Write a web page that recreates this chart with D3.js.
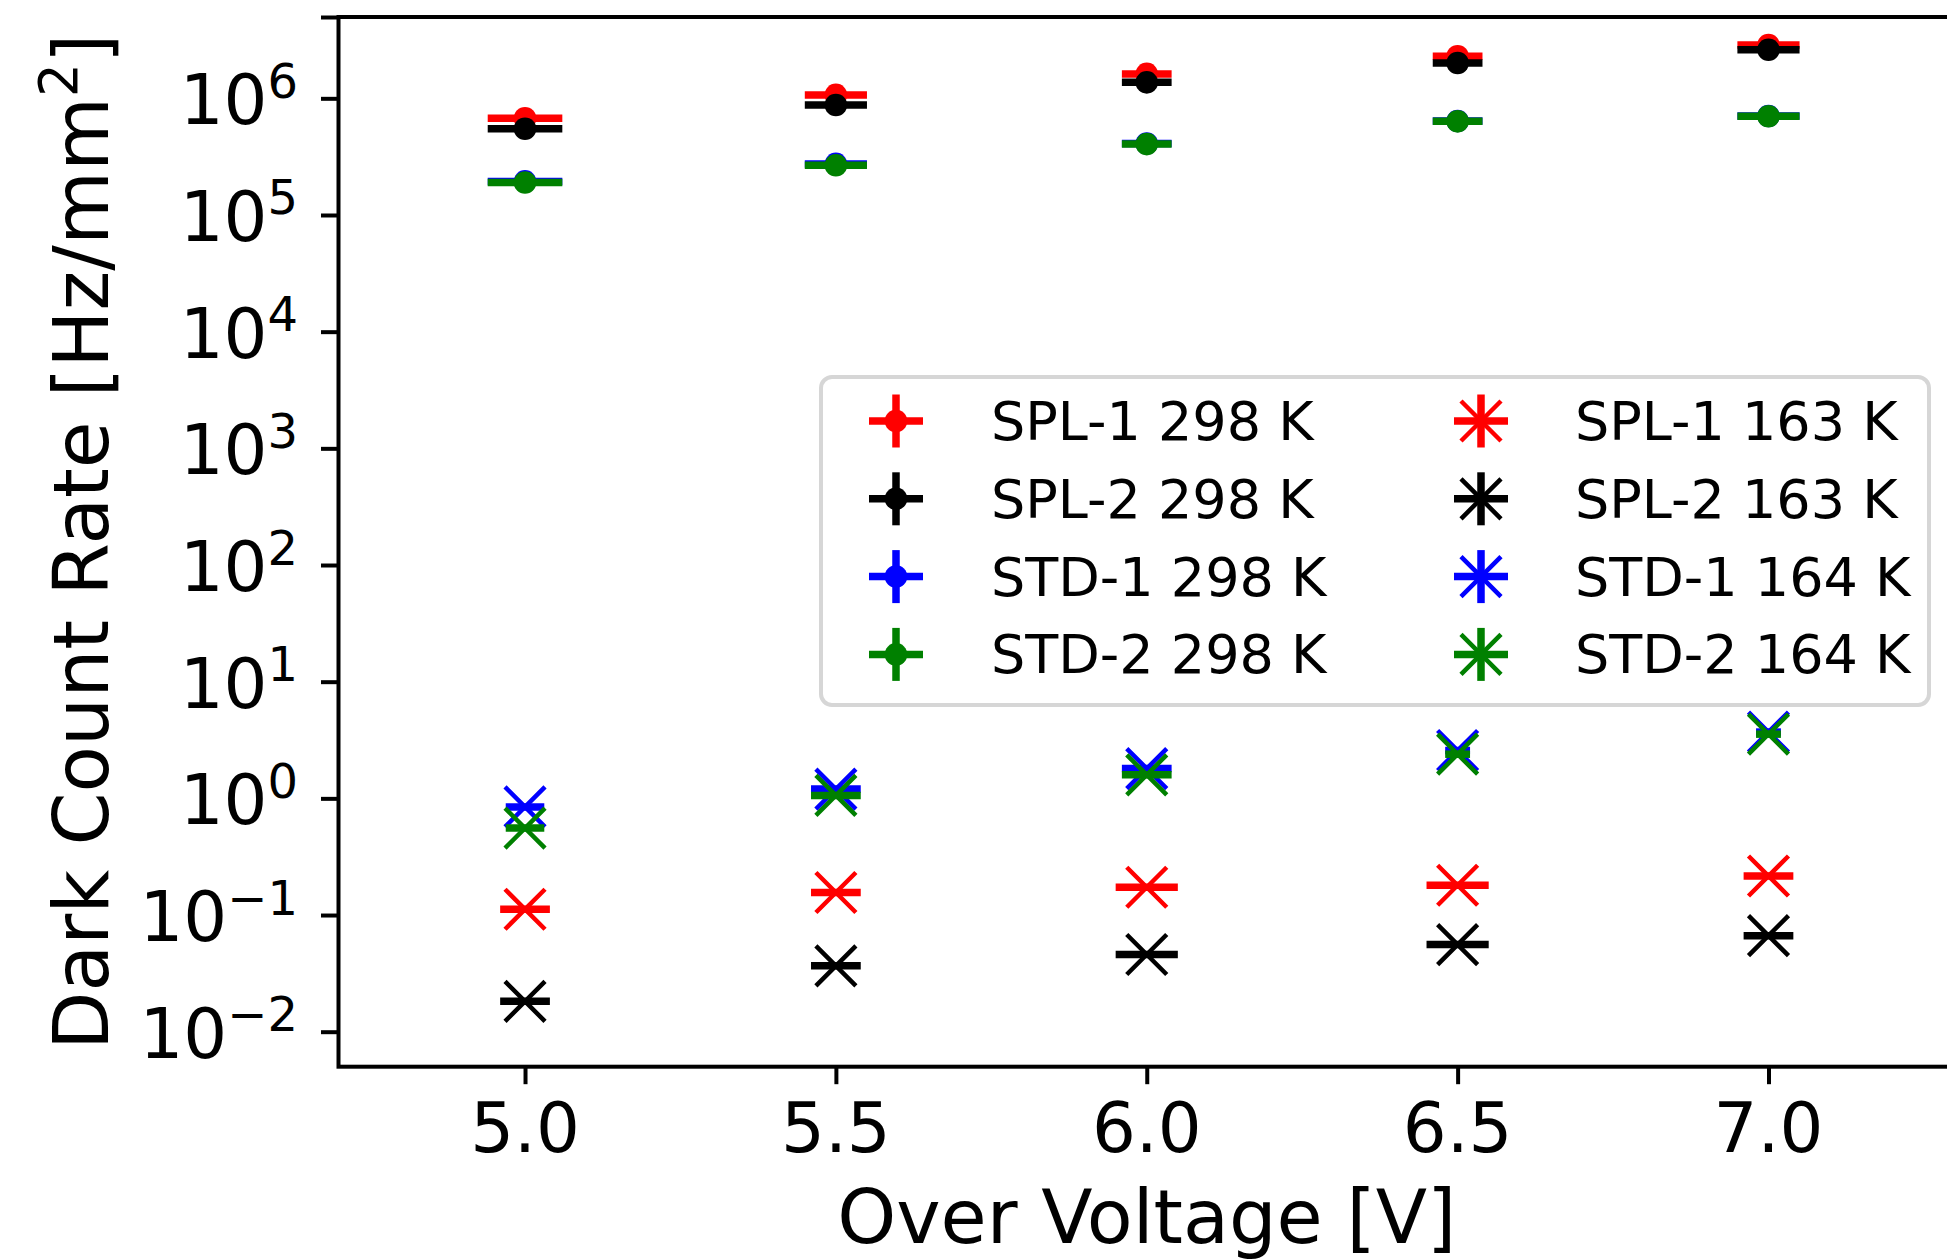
<!DOCTYPE html>
<html>
<head>
<meta charset="utf-8">
<script src="https://cdn.jsdelivr.net/npm/d3@7"></script>
<style>
  body { margin: 0; background: #fff; }
  svg { display: block; font-family: "DejaVu Sans", sans-serif; }
</style>
</head>
<body>
<div id="canvas"></div>
<script>
// over voltage points [V]
const voltages = [5.0, 5.5, 6.0, 6.5, 7.0];

// dark count rate [Hz/mm^2], room temperature
const spl1_298 = [6.74e5, 1.07e6, 1.62e6, 2.29e6, 2.86e6];
const spl2_298 = [5.49e5, 8.77e5, 1.37e6, 2.01e6, 2.61e6];
const std1_298 = [1.94e5, 2.74e5, 4.10e5, 6.40e5, 7.05e5];
const std2_298 = [1.90e5, 2.67e5, 4.05e5, 6.35e5, 7.01e5];

// dark count rate [Hz/mm^2], cold
const spl1_163 = [0.112, 0.156, 0.173, 0.180, 0.216];
const spl2_163 = [0.0182, 0.0367, 0.0459, 0.0558, 0.0665];
const std1_164 = [0.845, 1.20, 1.80, 2.57, 3.70];
const std2_164 = [0.556, 1.06, 1.59, 2.39, 3.55];

// over voltage uncertainties [V]
const xerr_298 = [0.06, 0.05, 0.04, 0.04, 0.05];
const xerr_spl_cold = [0.04, 0.04, 0.05, 0.05, 0.04];
const xerr_std_cold = [0.031, 0.04, 0.04, 0.02, 0.02];

const xTicks = [5.0, 5.5, 6.0, 6.5, 7.0];
const yExponents = [-2, -1, 0, 1, 2, 3, 4, 5, 6];

const labels = ["SPL-1 298 K", "SPL-2 298 K", "STD-1 298 K", "STD-2 298 K",
                "SPL-1 163 K", "SPL-2 163 K", "STD-1 164 K", "STD-2 164 K"];

var series = [
  { label: labels[0], values: spl1_298, xerr: xerr_298, color: "#ff0000", marker: "o" },
  { label: labels[1], values: spl2_298, xerr: xerr_298, color: "#000000", marker: "o" },
  { label: labels[2], values: std1_298, xerr: xerr_298, color: "#0000ff", marker: "o" },
  { label: labels[3], values: std2_298, xerr: xerr_298, color: "#008000", marker: "o" },
  { label: labels[4], values: spl1_163, xerr: xerr_spl_cold, color: "#ff0000", marker: "x" },
  { label: labels[5], values: spl2_163, xerr: xerr_spl_cold, color: "#000000", marker: "x" },
  { label: labels[6], values: std1_164, xerr: xerr_std_cold, color: "#0000ff", marker: "x" },
  { label: labels[7], values: std2_164, xerr: xerr_std_cold, color: "#008000", marker: "x" }
];

var width = 1947, height = 1260;
// plot area edges (right spine falls just outside the picture)
var axL = 338.5, axR = 1955, axT = 17, axB = 1066.7;

var svg = d3.select("#canvas").append("svg")
  .attr("width", width)
  .attr("height", height);

var x = d3.scaleLinear().domain([4.7, 7.3]).range([axL, axR]);
var y = d3.scaleLog().domain([Math.pow(10, -2.3), Math.pow(10, 6.697)]).range([axB, axT]);

var plot = svg.append("g");

var markerR = 11.3, xSize = 20;

series.forEach(function (s) {
  var g = plot.append("g");
  var pts = voltages.map(function (v, i) { return { v: v, r: s.values[i], e: s.xerr[i] }; });

  // horizontal error bars
  g.selectAll("line.xerr")
    .data(pts)
    .enter()
    .append("line")
    .attr("x1", function (d) { return x(d.v - d.e); })
    .attr("x2", function (d) { return x(d.v + d.e); })
    .attr("y1", function (d) { return y(d.r); })
    .attr("y2", function (d) { return y(d.r); })
    .attr("stroke", s.color)
    .attr("stroke-width", 7.5);

  if (s.marker === "o") {
    g.selectAll("circle")
      .data(pts)
      .enter()
      .append("circle")
      .attr("cx", function (d) { return x(d.v); })
      .attr("cy", function (d) { return y(d.r); })
      .attr("r", markerR)
      .attr("fill", s.color);
  } else {
    g.selectAll("path")
      .data(pts)
      .enter()
      .append("path")
      .attr("transform", function (d) { return "translate(" + x(d.v) + "," + y(d.r) + ")"; })
      .attr("d", "M" + -xSize + "," + -xSize + "L" + xSize + "," + xSize +
                 "M" + -xSize + "," + xSize + "L" + xSize + "," + -xSize)
      .attr("stroke", s.color)
      .attr("stroke-width", 4.5)
      .attr("fill", "none");
  }
});

// axes
var tickLen = 17.5;

var xAxis = svg.append("g")
  .attr("transform", "translate(0," + axB + ")")
  .call(d3.axisBottom(x).tickValues(xTicks).tickSize(tickLen).tickSizeOuter(0).tickFormat(""));

var yTickVals = yExponents.map(function (e) { return Math.pow(10, e); });
yTickVals.push(y.domain()[1]);
var yAxis = svg.append("g")
  .attr("transform", "translate(" + axL + ",0)")
  .call(d3.axisLeft(y).tickValues(yTickVals).tickSize(tickLen).tickSizeOuter(0).tickFormat(""));

[xAxis, yAxis].forEach(function (a) {
  a.select(".domain").remove();
  a.selectAll(".tick line").attr("stroke", "#000").attr("stroke-width", 4);
});

// spines
svg.append("rect")
  .attr("x", axL).attr("y", axT)
  .attr("width", axR - axL).attr("height", axB - axT)
  .attr("fill", "none")
  .attr("stroke", "#000")
  .attr("stroke-width", 4);

// tick labels
svg.append("g").selectAll("text")
  .data(xTicks)
  .enter()
  .append("text")
  .attr("x", function (d) { return x(d); })
  .attr("y", 1152)
  .attr("text-anchor", "middle")
  .attr("font-size", 69)
  .text(d3.format(".1f"));

var yLab = svg.append("g").selectAll("text")
  .data(yExponents)
  .enter()
  .append("text")
  .attr("x", 298)
  .attr("y", function (d) { return y(Math.pow(10, d)) + 26; })
  .attr("text-anchor", "end")
  .attr("font-size", 69);
yLab.append("tspan").text("10");
yLab.append("tspan")
  .attr("font-size", 48)
  .attr("dy", -26.5)
  .text(function (d) { return d < 0 ? "\u2212" + Math.abs(d) : d; });

// axis titles
svg.append("text")
  .attr("x", (axL + axR) / 2)
  .attr("y", 1243)
  .attr("text-anchor", "middle")
  .attr("font-size", 75)
  .text("Over Voltage [V]");

var yTitle = svg.append("text")
  .attr("transform", "translate(108," + (axT + axB) / 2 + ") rotate(-90)")
  .attr("text-anchor", "middle")
  .attr("font-size", 76);
yTitle.append("tspan").text("Dark Count Rate [Hz/mm");
yTitle.append("tspan").attr("font-size", 53).attr("dy", -31).text("2");
yTitle.append("tspan").attr("dy", 31).text("]");

// legend
var legend = svg.append("g");
legend.append("rect")
  .attr("x", 821).attr("y", 377)
  .attr("width", 1108).attr("height", 328)
  .attr("rx", 11)
  .attr("fill", "#fff")
  .attr("fill-opacity", 0.8)
  .attr("stroke", "#d6d6d6")
  .attr("stroke-width", 4);

var rowY0 = 421, rowStep = 77.8;
var colHandle = [896, 1481], colText = [991, 1575];

var items = legend.selectAll("g.item")
  .data(series)
  .enter()
  .append("g")
  .attr("class", "item")
  .attr("transform", function (d, i) {
    return "translate(" + colHandle[Math.floor(i / 4)] + "," + (rowY0 + (i % 4) * rowStep) + ")";
  });

items.append("line")
  .attr("x1", -27).attr("x2", 27)
  .attr("stroke", function (d) { return d.color; })
  .attr("stroke-width", 7.5);
items.append("line")
  .attr("y1", -26.5).attr("y2", 26.5)
  .attr("stroke", function (d) { return d.color; })
  .attr("stroke-width", 7.5);
items.filter(function (d) { return d.marker === "o"; })
  .append("circle")
  .attr("r", markerR)
  .attr("fill", function (d) { return d.color; });
items.filter(function (d) { return d.marker === "x"; })
  .append("path")
  .attr("d", "M" + -xSize + "," + -xSize + "L" + xSize + "," + xSize +
             "M" + -xSize + "," + xSize + "L" + xSize + "," + -xSize)
  .attr("stroke", function (d) { return d.color; })
  .attr("stroke-width", 4.5);
items.append("text")
  .attr("x", function (d, i) { return colText[Math.floor(i / 4)] - colHandle[Math.floor(i / 4)]; })
  .attr("y", 19)
  .attr("font-size", 54)
  .text(function (d) { return d.label; });
</script>
</body>
</html>
